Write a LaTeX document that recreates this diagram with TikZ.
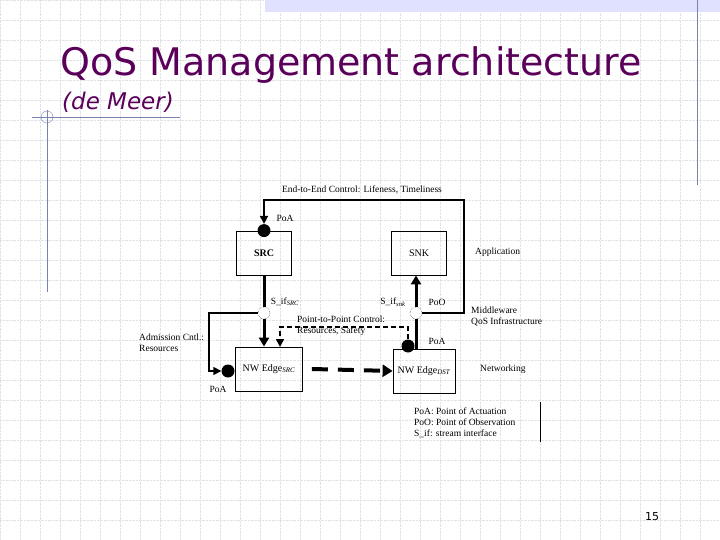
\documentclass[tikz,border=0pt]{standalone}
\usepackage{fontspec}
\setmainfont{Liberation Serif}
\newfontfamily\slidefont{DejaVu Sans}
\usetikzlibrary{arrows.meta,positioning}
\definecolor{titlepurple}{RGB}{90,0,90}
\definecolor{gridgray}{RGB}{225,225,232}
\definecolor{rulegray}{RGB}{120,130,175}
\tikzset{
  box/.style={draw,thick,minimum width=55pt,minimum height=44pt,inner sep=0pt},
  poa/.style={circle,fill=black,minimum size=13pt,inner sep=0pt},
  sif/.style={circle,draw,densely dotted,fill=white,minimum size=12pt,inner sep=0pt},
  lbl/.style={font=\fontsize{9.5}{11}\selectfont,inner sep=1pt},
  flow/.style={line width=3pt,-{Triangle[length=9pt,width=10pt]}},
  ctrl/.style={line width=1.6pt,-{Triangle[length=8pt,width=8pt]}}
}
\begin{document}
\begin{tikzpicture}[x=1pt,y=-1pt]
  \useasboundingbox (0,0) rectangle (720,540);
  % slide background
  \foreach \g in {0,20,...,720} {\draw[gridgray,densely dotted] (\g,0) -- (\g,540);}
  \foreach \g in {0,20,...,540} {\draw[gridgray,densely dotted] (0,\g) -- (720,\g);}
  \fill[blue!12] (265,0) rectangle (720,12);
  \draw[rulegray] (697,0) -- (697,185);
  \draw[rulegray] (32,117) -- (180,117);
  \draw[rulegray] (47,110) -- (47,292);
  \draw[rulegray] (47,117) circle (6);
  \node[anchor=base west,text=titlepurple,font=\slidefont\fontsize{38}{42}\selectfont,inner sep=0pt] (title) at (60,76) {QoS Management architecture};
  \node[anchor=base west,text=titlepurple,font=\slidefont\itshape\fontsize{23}{26}\selectfont,inner sep=0pt] (author) at (62,110) {(de Meer)};
  \node[font=\slidefont\fontsize{11}{12}\selectfont] (page) at (652,517) {15};
  % boxes
  \node[box] (src) at (264,253) {\textbf{SRC}};
  \node[box] (snk) at (419,253) {SNK};
  \node[box,minimum width=67pt] (edgesrc) at (269,369) {NW Edge$_{\mathit{SRC}}$};
  \node[box,minimum width=62pt] (edgedst) at (424,371) {NW Edge$_{\mathit{DST}}$};
  % points
  \node[poa] (poasrc) at (src.north) {};
  \node[sif] (sifsrc) at (264,313) {};
  \node[sif] (sifsnk) at (416,313) {};
  \node[poa] (poadst) at (408,346) {};
  \node[poa] (poaedge) at (228,371) {};
  \coordinate (topright) at (464,200);
  \coordinate (p2pleft) at (280,327);
  \coordinate (p2pend) at (280,347);
  % connectors
  \draw[ctrl] (sifsnk.east) -| (topright) -| (poasrc.north);
  \draw[flow] (src.south) -- (sifsrc) -- (edgesrc.north -| sifsrc);
  \draw[line width=3pt] (edgedst.north -| sifsnk) -- (sifsnk);
  \draw[flow] (sifsnk) -- (snk.south -| sifsnk);
  \draw[ctrl] (sifsrc.west) -| (209,371) -- (poaedge.west);
  \draw[line width=1.6pt,dash pattern=on 5pt off 3pt,-{Triangle[length=8pt,width=8pt]}] (poadst.north) |- (p2pleft) -- (p2pend);
  \draw[line width=4pt,dash pattern=on 16pt off 10pt,-{Triangle[length=10pt,width=12pt]}] (edgesrc.east) ++(9,0) -- (edgedst.west);
  % labels
  \node[lbl] (l1) at (362,190) {End-to-End Control: Lifeness, Timeliness};
  \node[lbl] (l2) at (285,218) {PoA};
  \node[lbl,anchor=west] (l3) at (474,252) {Application};
  \node[lbl] (l4) at (285,302) {S\_if$_{\mathit{SRC}}$};
  \node[lbl] (l5) at (393,302) {S\_if$_{\mathit{snk}}$};
  \node[lbl] (l6) at (437,302) {PoO};
  \node[lbl,anchor=west,align=left] (l7) at (470,316) {Middleware\\QoS Infrastructure};
  \node[lbl,anchor=west,align=left] (l8) at (296,326) {Point-to-Point Control:\\Resources, Safety};
  \node[lbl] (l9) at (437,341) {PoA};
  \node[lbl,anchor=west,align=left] (l10) at (138,343) {Admission Cntl.:\\Resources};
  \node[lbl] (l11) at (218,389) {PoA};
  \node[lbl,anchor=west] (l12) at (479,369) {Networking};
  \node[lbl,anchor=west,align=left] (l13) at (413,423) {PoA: Point of Actuation\\PoO: Point of Observation\\S\_if: stream interface};
  \draw[thick] (540,402) -- (540,442);
\end{tikzpicture}
\end{document}
